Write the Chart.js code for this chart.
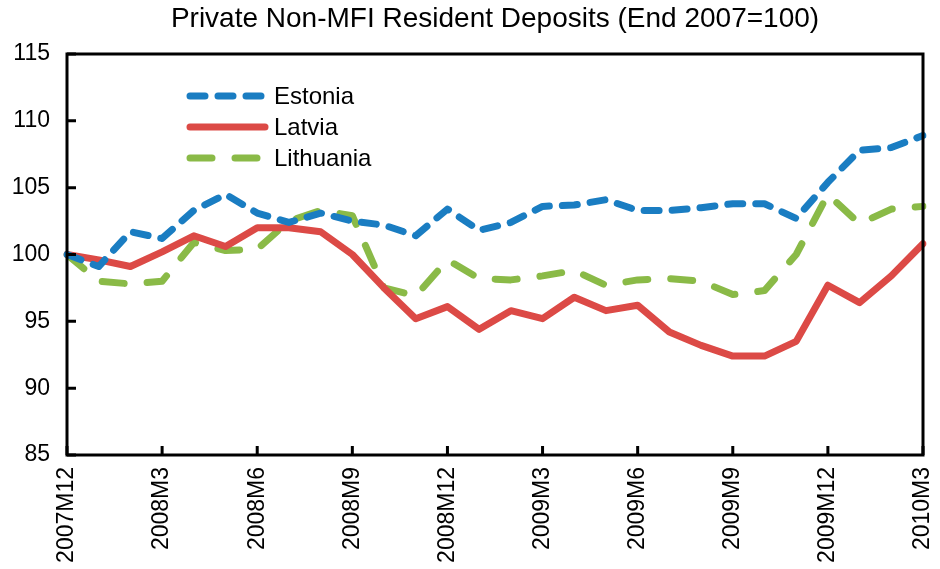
<!DOCTYPE html>
<html>
<head>
<meta charset="utf-8">
<script src="https://cdn.jsdelivr.net/npm/chart.js@4"></script>
<style>
  body { margin: 0; background: #fff; }
  canvas { display: block; }
</style>
</head>
<body>
<canvas id="depositsChart" width="940" height="569"></canvas>
<script>
let meses = [
  "2007M12",
  "2008M1", "2008M2", "2008M3", "2008M4", "2008M5", "2008M6",
  "2008M7", "2008M8", "2008M9", "2008M10", "2008M11", "2008M12",
  "2009M1", "2009M2", "2009M3", "2009M4", "2009M5", "2009M6",
  "2009M7", "2009M8", "2009M9", "2009M10", "2009M11", "2009M12",
  "2010M1", "2010M2", "2010M3"
];

let estonia = [
  100.0, 99.1, 101.7, 101.2, 103.3, 104.5, 103.1, 102.4, 103.1, 102.5,
  102.2, 101.4, 103.4, 101.8, 102.4, 103.6, 103.7, 104.1, 103.3, 103.3,
  103.5, 103.8, 103.8, 102.7, 105.4, 107.8, 108.0, 108.9
];

let latvia = [
  100.0, 99.6, 99.1, 100.2, 101.4, 100.6, 102.0, 102.0, 101.7, 100.0,
  97.5, 95.2, 96.1, 94.4, 95.8, 95.2, 96.8, 95.8, 96.2, 94.2,
  93.2, 92.4, 92.4, 93.5, 97.7, 96.4, 98.4, 100.8
];

let lithuania = [
  100.0, 98.0, 97.8, 98.0, 100.9, 100.3, 100.4, 102.5, 103.3, 102.9,
  97.5, 96.9, 99.6, 98.2, 98.1, 98.4, 98.8, 97.7, 98.1, 98.2,
  98.0, 97.0, 97.3, 100.0, 104.5, 102.3, 103.4, 103.6
];

let ctx = document.getElementById("depositsChart").getContext("2d");
let fonte = "'Liberation Sans', Arial, sans-serif";

// caixa preta e marcas para dentro
let molduraPlugin = {
  id: "moldura",
  afterDatasetsDraw(chart) {
    let area = chart.chartArea;
    let c = chart.ctx;
    let x = chart.scales.x;
    let y = chart.scales.y;
    c.save();
    c.strokeStyle = "#000";
    c.lineWidth = 3;
    c.beginPath();
    y.ticks.forEach((t) => {
      let py = y.getPixelForValue(t.value);
      c.moveTo(area.left, py);
      c.lineTo(area.left + 9, py);
    });
    meses.forEach((m, i) => {
      if (i % 3 === 0) {
        let px = x.getPixelForValue(i);
        c.moveTo(px, area.bottom);
        c.lineTo(px, area.bottom - 9);
      }
    });
    c.stroke();
    c.strokeRect(area.left, area.top, area.right - area.left, area.bottom - area.top);
    c.restore();
  },
};

// legenda dentro do gráfico
let legendaPlugin = {
  id: "legenda",
  afterDatasetsDraw(chart) {
    let c = chart.ctx;
    c.save();
    chart.data.datasets.forEach((ds, i) => {
      let ly = 96 + i * 31;
      c.strokeStyle = ds.borderColor;
      c.lineWidth = ds.borderWidth;
      c.lineCap = "round";
      c.setLineDash(ds.borderDash || []);
      c.beginPath();
      c.moveTo(190, ly);
      c.lineTo(265, ly);
      c.stroke();
      c.setLineDash([]);
      c.fillStyle = "#000";
      c.font = "24px " + fonte;
      c.textBaseline = "middle";
      c.fillText(ds.label, 274, ly + 1);
    });
    c.restore();
  },
};

let myChart = new Chart(ctx, {
  type: "line",
  data: {
    labels: meses,
    datasets: [
      {
        label: "Estonia",
        data: estonia,
        borderColor: "#1a7dc2",
        borderWidth: 7,
        borderDash: [15, 13],
        borderCapStyle: "round",
        borderJoinStyle: "round",
        pointRadius: 0,
        tension: 0,
      },
      {
        label: "Latvia",
        data: latvia,
        borderColor: "#dc4a46",
        borderWidth: 7,
        borderCapStyle: "round",
        borderJoinStyle: "round",
        pointRadius: 0,
        tension: 0,
      },
      {
        label: "Lithuania",
        data: lithuania,
        borderColor: "#8aba47",
        borderWidth: 7,
        borderDash: [22, 23],
        borderCapStyle: "round",
        borderJoinStyle: "round",
        pointRadius: 0,
        tension: 0,
      },
    ],
  },
  options: {
    responsive: false,
    animation: false,
    devicePixelRatio: 1,
    layout: { padding: { top: 0, right: 17, left: 0, bottom: 0 } },
    plugins: {
      legend: { display: false },
      tooltip: { enabled: false },
      title: {
        display: true,
        fullSize: false,
        text: "Private Non-MFI Resident Deposits (End 2007=100)",
        color: "#000",
        font: { family: fonte, size: 28, weight: "normal" },
        padding: { top: 2, bottom: 18.4 },
      },
    },
    scales: {
      x: {
        type: "category",
        offset: false,
        grid: { display: false, drawTicks: false },
        border: { display: false },
        ticks: {
          autoSkip: false,
          maxRotation: 90,
          minRotation: 90,
          padding: 12,
          color: "#000",
          font: { family: fonte, size: 23 },
          callback: function (value, index) {
            return index % 3 === 0 ? meses[index] : "";
          },
        },
        afterFit: function (scale) {
          scale.height = 114;
          scale.paddingLeft = 0;
          scale.paddingRight = 0;
        },
      },
      y: {
        min: 85,
        max: 115,
        grid: { display: false, drawTicks: false },
        border: { display: false },
        ticks: {
          stepSize: 5,
          padding: 17,
          color: "#000",
          font: { family: fonte, size: 23 },
        },
        afterFit: function (scale) {
          scale.width = 67;
          scale.paddingTop = 0;
          scale.paddingBottom = 0;
        },
      },
    },
  },
  plugins: [molduraPlugin, legendaPlugin],
});
</script>
</body>
</html>
